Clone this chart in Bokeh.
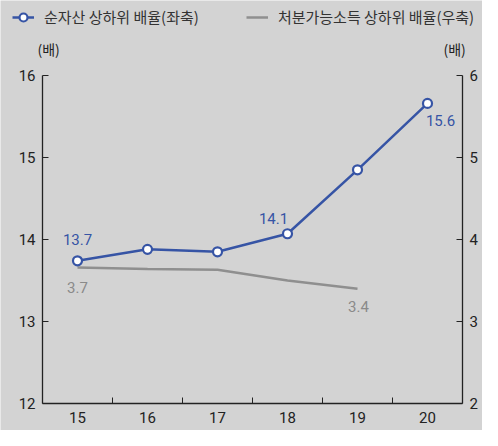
from bokeh.plotting import figure
from bokeh.models import (Range1d, LinearAxis, FixedTicker, Legend, LegendItem,
                          ColumnDataSource)
from bokeh.embed import file_html
from bokeh.resources import INLINE
from bokeh.core.properties import value

# ---- data ----
years = [15, 16, 17, 18, 19, 20]
year_labels = ["15", "16", "17", "18", "19", "20"]
net_asset_ratio = [13.74, 13.88, 13.85, 14.07, 14.85, 15.66]      # left axis
income_years = [15, 16, 17, 18, 19]
disposable_income_ratio = [3.66, 3.64, 3.63, 3.50, 3.40]          # right axis
left_ticks = [12, 13, 14, 15, 16]
right_ticks = [2, 3, 4, 5, 6]
net_asset_label_idx = [0, 3, 5]
net_asset_label_text = ["13.7", "14.1", "15.6"]
income_label_idx = [0, 4]
income_label_text = ["3.7", "3.4"]
series_names = ["순자산 상하위 배율(좌축)", "처분가능소득 상하위 배율(우축)"]
unit_label = "(배)"

BG = "#d3d3d3"
BLUE = "#3654a5"
GRAY = "#8f8f8f"
GRAY_TXT = "#8a8a8a"
DARK = "#222222"
NUM_FONT = "Roboto"
KR_FONT = "Noto Sans CJK KR"

# Layout: the frame covers the whole canvas; all three axes sit at fixed
# data positions (category edges 14.5 / 20.5 and the bottom value 12).
W, H, BOTTOM = 482, 430, 27
PX_X, PX_Y = 70, 82          # pixels per unit
LEFT_PX = 42                 # canvas x of the left axis
x0 = years[0] - 0.5
x1 = years[-1] + 0.5
x_start = x0 - LEFT_PX / PX_X
x_end = x_start + W / PX_X
y_below = BOTTOM / PX_Y
y_span = H / PX_Y

p = figure(width=W, height=H, output_backend="svg", toolbar_location=None,
           x_range=Range1d(x_start, x_end),
           y_range=Range1d(left_ticks[0] - y_below, left_ticks[0] - y_below + y_span),
           min_border_left=0, min_border_right=0, min_border_top=0,
           min_border_bottom=0)
p.extra_y_ranges = {"right": Range1d(right_ticks[0] - y_below,
                                     right_ticks[0] - y_below + y_span)}
p.background_fill_color = BG
p.border_fill_color = BG
p.outline_line_color = None
p.xgrid.visible = False
p.ygrid.visible = False

# x axis
xa = p.xaxis[0]
xa.fixed_location = left_ticks[0]
xa.bounds = (x0, x1)
xa.ticker = FixedTicker(ticks=years, minor_ticks=[y + 0.5 for y in years[:-1]])
xa.major_label_overrides = {y: l for y, l in zip(years, year_labels)}
xa.major_tick_in = 0
xa.major_tick_out = 0
xa.minor_tick_in = 6
xa.minor_tick_out = 0
xa.minor_tick_line_color = DARK
xa.axis_line_color = DARK
xa.axis_line_width = 1.3
xa.major_label_standoff = 8
xa.major_label_text_font = NUM_FONT
xa.major_label_text_font_size = "15px"
xa.major_label_text_color = DARK

# left axis
ya = p.yaxis[0]
ya.fixed_location = x0
ya.ticker = FixedTicker(ticks=left_ticks)
ya.bounds = (left_ticks[0], left_ticks[-1])
ya.major_tick_in = 6
ya.major_tick_out = 0
ya.minor_tick_line_color = None
ya.axis_line_color = DARK
ya.axis_line_width = 1.3
ya.major_tick_line_color = DARK
ya.major_label_standoff = 7
ya.major_label_text_font = NUM_FONT
ya.major_label_text_font_size = "15px"
ya.major_label_text_color = DARK

# right axis
ra = LinearAxis(y_range_name="right", ticker=FixedTicker(ticks=right_ticks),
                bounds=(right_ticks[0], right_ticks[-1]), fixed_location=x1)
ra.major_tick_in = 6
ra.major_tick_out = 0
ra.minor_tick_line_color = None
ra.axis_line_color = DARK
ra.axis_line_width = 1.3
ra.major_tick_line_color = DARK
ra.major_label_standoff = 7
ra.major_label_text_font = NUM_FONT
ra.major_label_text_font_size = "15px"
ra.major_label_text_color = DARK
p.add_layout(ra, "right")

# series
src_a = ColumnDataSource(dict(x=years, y=net_asset_ratio))
src_b = ColumnDataSource(dict(x=income_years, y=disposable_income_ratio))

gray_line = p.line("x", "y", source=src_b, y_range_name="right",
                   line_color=GRAY, line_width=2.5)
blue_line = p.line("x", "y", source=src_a, line_color=BLUE, line_width=2.5)
blue_pts = p.scatter("x", "y", source=src_a, size=9, fill_color="white",
                     line_color=BLUE, line_width=2.2)

# data labels (blue)
lab_a = ColumnDataSource(dict(
    x=[years[i] for i in net_asset_label_idx],
    y=[net_asset_ratio[i] for i in net_asset_label_idx],
    t=net_asset_label_text,
    xo=[0, -14, 13], yo=[-21, -15, 17]))
p.text("x", "y", text="t", source=lab_a, x_offset="xo", y_offset="yo",
       text_align="center", text_baseline="middle",
       text_font=value(NUM_FONT), text_font_size="15px", text_color=BLUE)

# data labels (gray)
lab_b = ColumnDataSource(dict(
    x=[income_years[i] for i in income_label_idx],
    y=[disposable_income_ratio[i] for i in income_label_idx],
    t=income_label_text,
    xo=[0, 1], yo=[20, 18]))
p.text("x", "y", text="t", source=lab_b, x_offset="xo", y_offset="yo",
       y_range_name="right",
       text_align="center", text_baseline="middle",
       text_font=value(NUM_FONT), text_font_size="15px", text_color=GRAY_TXT)

# unit labels above the top ticks of both axes
units = ColumnDataSource(dict(x=[x0, x1], y=[left_ticks[-1], left_ticks[-1]],
                              t=[unit_label, unit_label], xo=[-5, -19]))
p.text("x", "y", text="t", source=units, x_offset="xo", y_offset=-27,
       text_align="left", text_baseline="middle",
       text_font=value(KR_FONT), text_font_size="14px", text_color=DARK)

# legend (location = bottom-left corner, in frame pixels)
legend = Legend(items=[LegendItem(label=series_names[0], renderers=[blue_line, blue_pts]),
                       LegendItem(label=series_names[1], renderers=[gray_line])],
                location=(12, H - 27), orientation="horizontal",
                background_fill_alpha=0, border_line_color=None,
                padding=0, margin=0, spacing=47, label_standoff=10,
                glyph_width=22, glyph_height=20, label_height=20,
                label_text_font=KR_FONT, label_text_font_size="15px",
                label_text_color="#333333")
p.add_layout(legend, "center")

open("out.html", "w").write(file_html(p, INLINE))
